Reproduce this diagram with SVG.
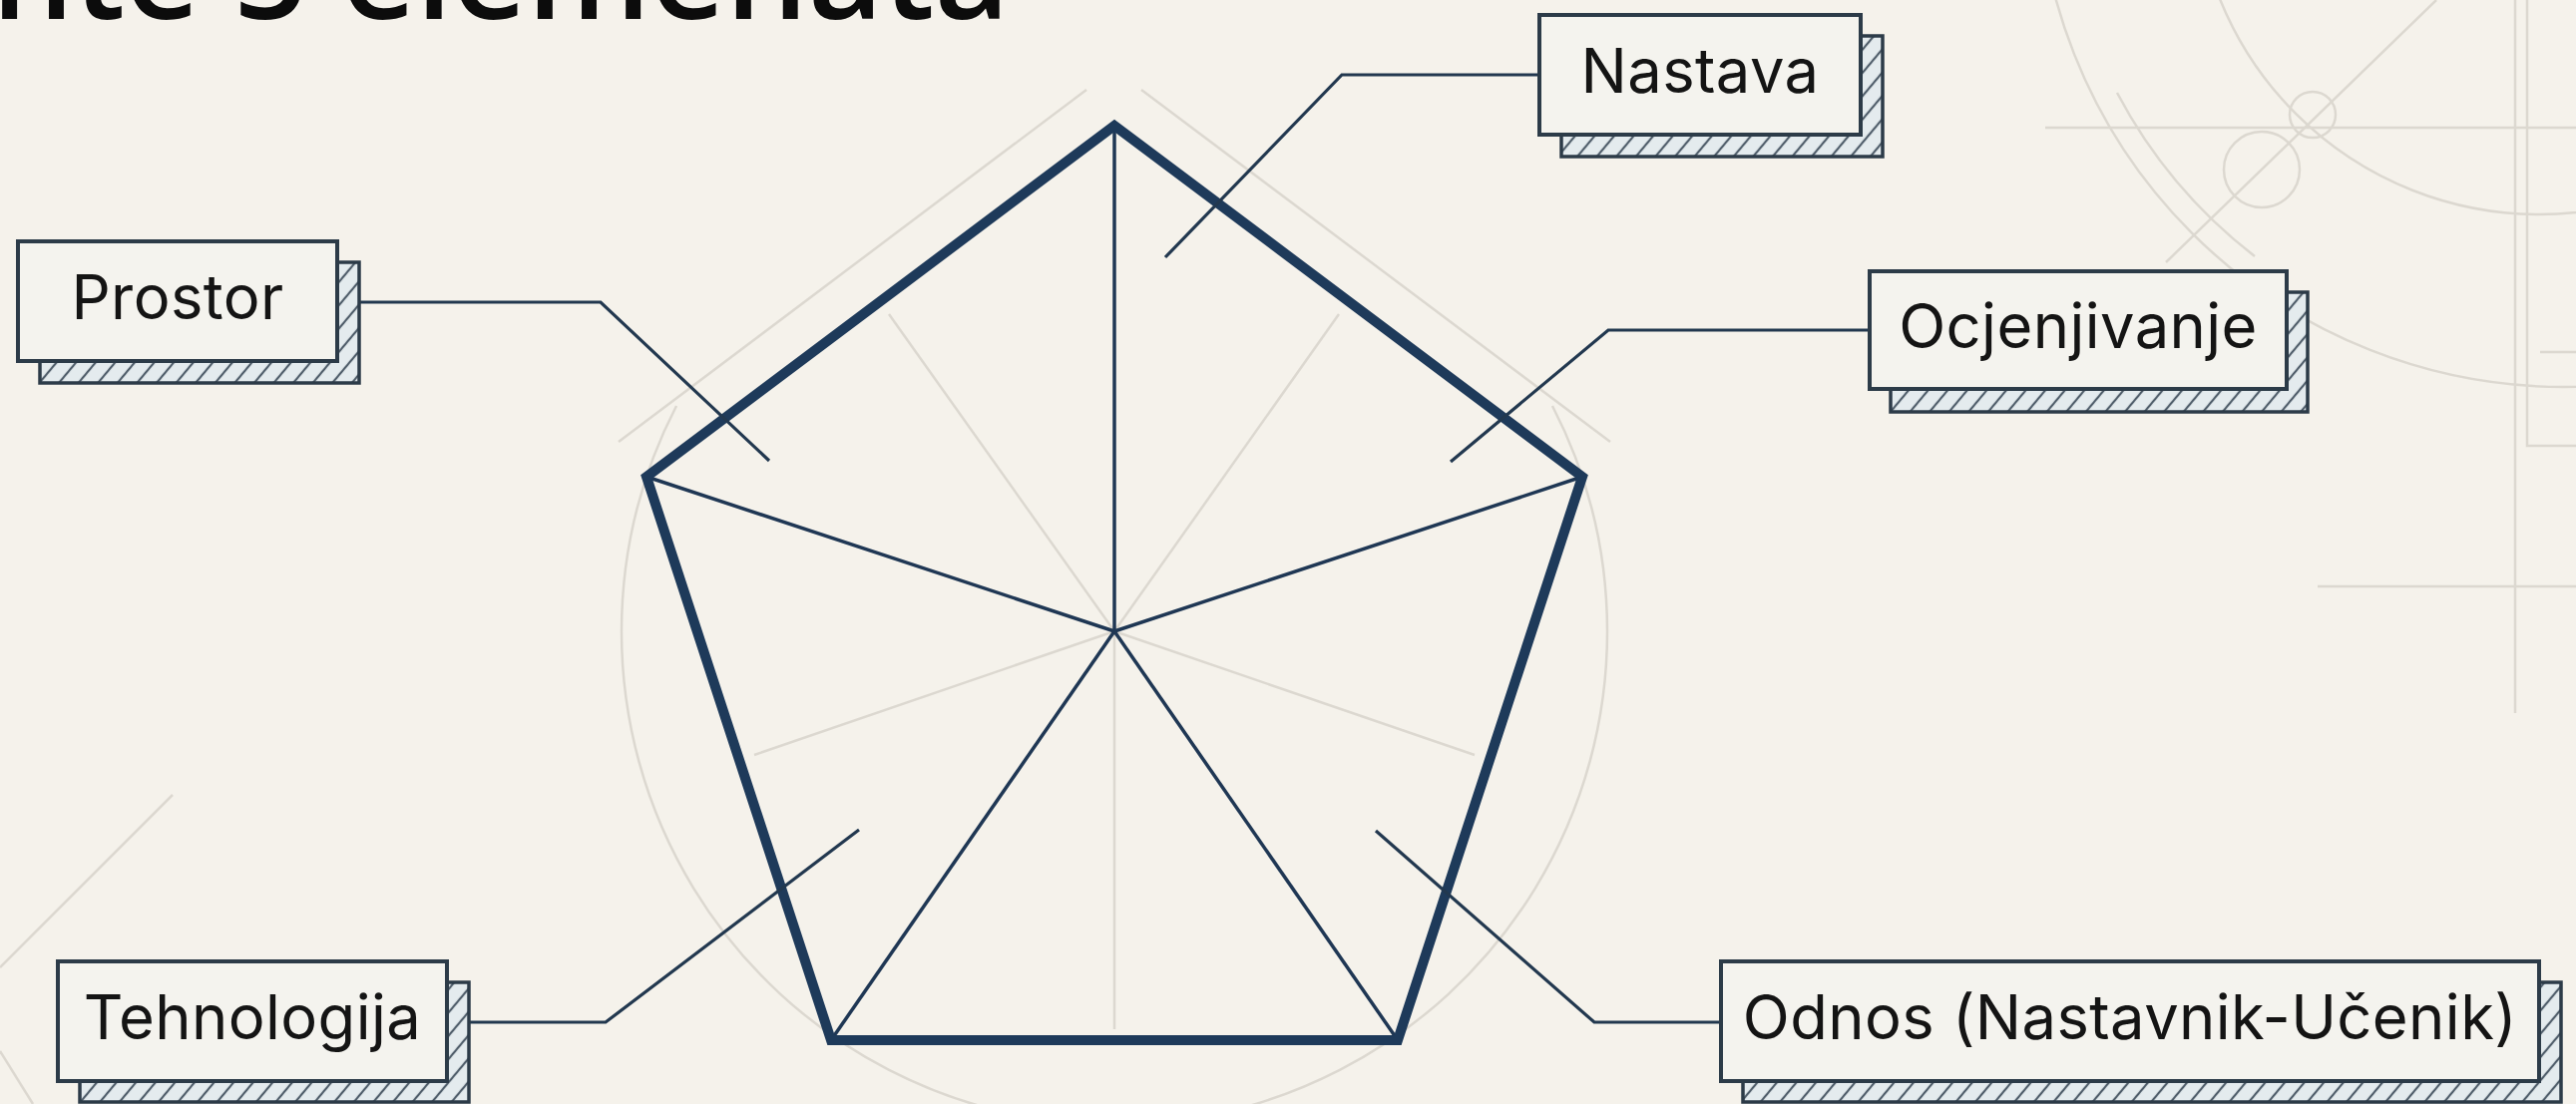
<svg xmlns="http://www.w3.org/2000/svg" width="2582" height="1107" viewBox="0 0 2582 1107">
<defs>
<pattern id="hatch" patternUnits="userSpaceOnUse" width="15" height="15" patternTransform="rotate(40)">
<rect width="15" height="15" fill="#e4ebee"/>
<line x1="7" y1="0" x2="7" y2="15" stroke="#4f5d6a" stroke-width="2.2"/>
</pattern>
<style>
.bg{fill:none;stroke:#dcd8d0;stroke-width:2.5}
.pent{fill:none;stroke:#1e3a5a;stroke-width:10;stroke-linejoin:miter}
.spoke{stroke:#1f3754;stroke-width:3.5;fill:none}
.conn{fill:none;stroke:#22384f;stroke-width:3.2}
.front{fill:#f4f3ee;stroke:#2c3b48;stroke-width:4}
.shadow{fill:url(#hatch);stroke:#2c3b48;stroke-width:3.5}
.lbl{font-family:Inter,"Liberation Sans",sans-serif;font-size:61.5px;letter-spacing:0.4px;fill:#141414;text-anchor:middle}
.title{font-family:"Open Sans","Noto Sans",sans-serif;font-size:130px;font-weight:600;fill:#0c0c0c;text-anchor:end}
</style>
</defs>
<rect width="2582" height="1107" fill="#f5f2eb"/>

<g id="background">
<path class="bg" d="M678 407 A494 494 0 1 0 1556 407"/>
<line class="bg" x1="1089" y1="90" x2="620" y2="443"/>
<line class="bg" x1="1144" y1="90" x2="1614" y2="443"/>
<line class="bg" x1="1117" y1="633" x2="891" y2="315"/>
<line class="bg" x1="1117" y1="633" x2="1342" y2="315"/>
<line class="bg" x1="1117" y1="633" x2="756" y2="757"/>
<line class="bg" x1="1117" y1="633" x2="1478" y2="757"/>
<line class="bg" x1="1117" y1="633" x2="1117" y2="1032"/>
<line class="bg" x1="2050" y1="128" x2="2582" y2="128"/>
<line class="bg" x1="2521" y1="0" x2="2521" y2="715"/>
<polyline class="bg" points="2533,0 2533,447 2582,447"/>
<line class="bg" x1="2546" y1="353" x2="2582" y2="353"/>
<line class="bg" x1="2323" y1="588" x2="2582" y2="588"/>
<circle class="bg" cx="2570" cy="-140" r="528"/>
<circle class="bg" cx="2545" cy="-130" r="345"/>
<path class="bg" d="M2122 93 A505 505 0 0 0 2260 257"/>
<line class="bg" x1="2442" y1="0" x2="2171" y2="263"/>
<circle class="bg" cx="2267" cy="170" r="38"/>
<circle class="bg" cx="2318" cy="115" r="23"/>
<line class="bg" x1="173" y1="797" x2="0" y2="970"/>
<line class="bg" x1="0" y1="1054" x2="33" y2="1107"/>
</g>

<text class="title" x="1012" y="19">nte 5 elemenata</text>

<g id="pentagon">
<line class="spoke" x1="1117" y1="633" x2="1117" y2="126"/>
<line class="spoke" x1="1117" y1="633" x2="648" y2="478"/>
<line class="spoke" x1="1117" y1="633" x2="1586" y2="478"/>
<line class="spoke" x1="1117" y1="633" x2="833" y2="1043"/>
<line class="spoke" x1="1117" y1="633" x2="1401" y2="1043"/>
<polygon class="pent" points="1117,126 1586,478 1401,1043 833,1043 648,478"/>
</g>

<g id="connectors">
<path class="conn" d="M1543 75 H1345 L1168 258"/>
<path class="conn" d="M360 303 H602 L771 462"/>
<path class="conn" d="M1874 331 H1612 L1454 463"/>
<path class="conn" d="M470 1025 H607 L861 832"/>
<path class="conn" d="M1725 1025 H1598 L1379 833"/>
</g>

<g id="node-nastava">
<rect class="shadow" x="1565" y="36" width="322" height="121"/>
<rect class="front" x="1543" y="15" width="322" height="120"/>
<text class="lbl" x="1704" y="93">Nastava</text>
</g>
<g id="node-prostor">
<rect class="shadow" x="40" y="263" width="320" height="121"/>
<rect class="front" x="18" y="242" width="320" height="120"/>
<text class="lbl" x="178" y="320">Prostor</text>
</g>
<g id="node-ocjenjivanje">
<rect class="shadow" x="1895" y="293" width="418" height="120"/>
<rect class="front" x="1874" y="272" width="418" height="118"/>
<text class="lbl" x="2083" y="349">Ocjenjivanje</text>
</g>
<g id="node-tehnologija">
<rect class="shadow" x="80" y="985" width="390" height="120"/>
<rect class="front" x="58" y="964" width="390" height="120"/>
<text class="lbl" x="253" y="1042">Tehnologija</text>
</g>
<g id="node-odnos">
<rect class="shadow" x="1747" y="985" width="820" height="120"/>
<rect class="front" x="1725" y="964" width="820" height="120"/>
<text class="lbl" x="2135" y="1042">Odnos (Nastavnik-Učenik)</text>
</g>
</svg>
